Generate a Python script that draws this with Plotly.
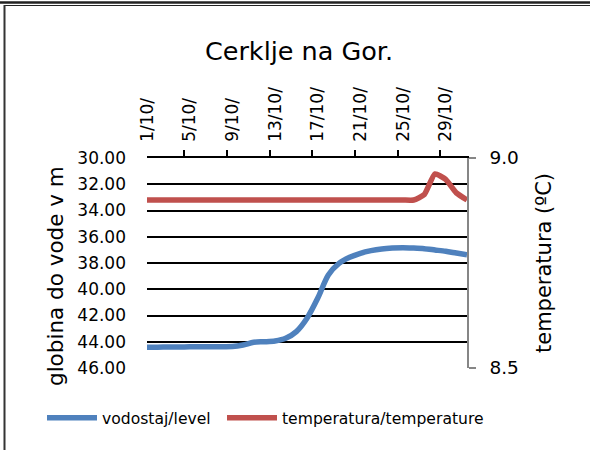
import plotly.graph_objects as go

days = [1, 2, 3, 4, 5, 6, 7, 8, 9, 10, 11, 12, 13, 14, 15, 16,
        17, 18, 19, 20, 21, 22, 23, 24, 25, 26, 27, 28, 29, 30, 31]
categories = [f"{d}/10/" for d in days]

level = [44.42, 44.41, 44.40, 44.40, 44.39, 44.39, 44.38, 44.38, 44.37, 44.25,
         44.04, 44.00, 43.94, 43.74, 43.23, 42.21, 40.69, 38.91, 38.03, 37.57,
         37.26, 37.06, 36.93, 36.86, 36.83, 36.86, 36.91, 37.01, 37.11, 37.24, 37.37]

temperature = [8.90] * 26 + [8.913, 8.962, 8.949, 8.917, 8.900]

title_text = "Cerklje na Gor."
left_title = "globina do vode v m"
right_title = "temperatura (ºC)"
name_level = "vodostaj/level"
name_temp = "temperatura/temperature"

FONT = "DejaVu Sans"

# pixel -> paper helpers (plot area 147..467 x 158..368)
def px(x):
    return (x - 147) / 320

def py(y):
    return (368 - y) / 210

fig = go.Figure()
fig.add_trace(go.Scatter(
    x=categories, y=level, name=name_level, mode="lines",
    line=dict(color="#4F81BD", width=5.5, shape="spline", smoothing=0.8),
    yaxis="y", legend="legend"))
fig.add_trace(go.Scatter(
    x=categories, y=temperature, name=name_temp, mode="lines",
    line=dict(color="#C0504D", width=5.5, shape="spline", smoothing=0.5),
    yaxis="y2", legend="legend2"))

legend_common = dict(orientation="h", xanchor="left", yanchor="middle", itemwidth=50,
                     font=dict(family=FONT, size=15.6), bgcolor="rgba(0,0,0,0)")

fig.update_layout(
    width=590, height=450,
    margin=dict(l=147, r=123, t=158, b=82, autoexpand=False),
    paper_bgcolor="white", plot_bgcolor="white",
    font=dict(family=FONT, size=17, color="black"),
    title=dict(text=title_text, x=299 / 590, xanchor="center", y=1 - 51 / 450, yanchor="middle",
               font=dict(family=FONT, size=25.5, color="black")),
    showlegend=True,
    legend=dict(x=px(42), y=py(418), **legend_common),
    legend2=dict(x=px(222), y=py(418), **legend_common),
    xaxis=dict(
        type="category", side="top", tickson="boundaries", dtick=4,
        tickangle=-90, showgrid=False, zeroline=False,
        showline=True, linecolor="black", linewidth=1.5,
        ticks="outside", ticklen=6, tickcolor="black", tickwidth=1.5,
        ticklabelstandoff=11,
        tickfont=dict(family=FONT, size=17)),
    yaxis=dict(
        range=[46, 30], dtick=2, tickformat=".2f",
        showgrid=True, gridcolor="black", gridwidth=1.5,
        showline=False, zeroline=False, ticks="",
        ticklabelstandoff=20,
        tickfont=dict(family=FONT, size=17)),
    yaxis2=dict(
        overlaying="y", side="right", range=[8.5, 9.0], dtick=0.5, tickformat=".1f",
        showgrid=False, zeroline=False,
        showline=True, linecolor="#868686", linewidth=1.5,
        ticks="outside", ticklen=7, tickcolor="#868686", tickwidth=1.5,
        ticklabelstandoff=10,
        tickfont=dict(family=FONT, size=18.5),
        title=dict(text=right_title, standoff=18, font=dict(family=FONT, size=21))),
)

# left axis title as rotated text, positioned like the reference
fig.add_annotation(text=left_title, textangle=-90, showarrow=False,
                   xref="paper", yref="paper", x=px(55), y=py(276),
                   xanchor="center", yanchor="middle",
                   font=dict(family=FONT, size=21.5, color="black"))

# outer border (cropped table cell frame)
fig.add_shape(type="line", xref="paper", yref="paper",
              x0=px(0), x1=px(590), y0=py(2.5), y1=py(2.5),
              line=dict(color="#222222", width=2.5))
fig.add_shape(type="line", xref="paper", yref="paper",
              x0=px(4), x1=px(590), y0=py(5.5), y1=py(5.5),
              line=dict(color="#222222", width=1))
fig.add_shape(type="line", xref="paper", yref="paper",
              x0=px(4.5), x1=px(4.5), y0=py(5), y1=py(452),
              line=dict(color="#333333", width=2))

fig.write_html("out.html", config={"displayModeBar": False},
               post_script="document.body.style.margin='0px';document.body.style.overflow='hidden';")
